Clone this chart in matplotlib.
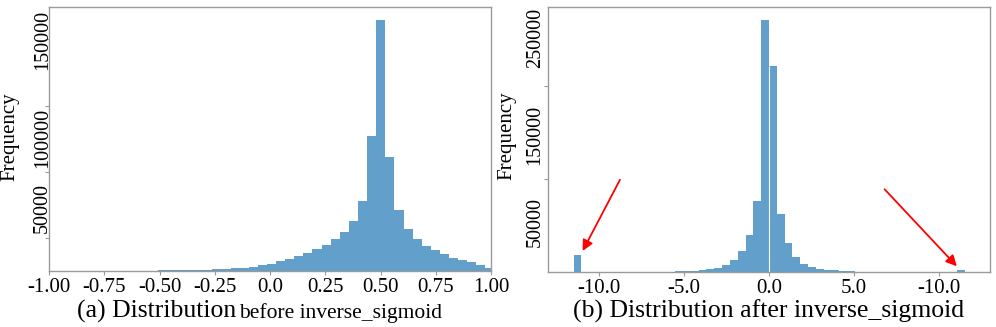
import numpy as np
import matplotlib
matplotlib.use("Agg")
import matplotlib.pyplot as plt

plt.rcParams['font.family'] = ['Liberation Serif', 'DejaVu Serif']

# (a) before inverse_sigmoid : 37 bins
before_edges = np.linspace(-0.508, 1.016, 38)
before_counts = [380, 450, 530, 600, 760, 1060, 1290, 1820, 2050, 2580,
                 3030, 4320, 5610, 7350, 9320, 11360, 13410, 16440, 20000, 24020,
                 29550, 37880, 53330, 102270, 189930, 86670, 46520, 32120, 24550, 18940,
                 16210, 13180, 10150, 8640, 6590, 4550, 2580]

# (b) after inverse_sigmoid : 50 bins
after_edges = np.linspace(-11.5, 11.5, 51)
after_counts = [19700, 0, 0, 0, 0, 0, 0, 0, 0, 0,
                0, 0, 300, 700, 900, 1360, 2260, 3400, 4980, 7580,
                14040, 23430, 42340, 80030, 284920, 233640, 65320, 32830, 17430, 9510,
                5660, 3850, 2600, 1700, 1130, 570, 0, 0, 0, 0,
                0, 0, 0, 0, 0, 0, 0, 0, 0, 1700]

left_xticks = [-1.0, -0.75, -0.5, -0.25, 0.0, 0.25, 0.5, 0.75, 1.0]
left_xlabels = ['-1.00', '-0.75', '-0.50', '-0.25', '0.0', '0.25', '0.50', '0.75', '1.00']
right_xticks = [-10, -5, 0, 5, 10]
right_xlabels = ['-10.0', '-5.0', '0.0', '5.0', '-10.0']

# y labels as they sit in the picture (value, text)
left_ylabels = [(175000, '150000'), (100760, '100000'), (47730, '50000')]
right_ylabels = [(264900, '250000'), (155080, '150000'), (56600, '50000')]

bar_color = '#1f77b4'
spine_color = '#9a9a9a'

fig = plt.figure(figsize=(9.96, 3.27), dpi=100)
ax1 = fig.add_axes([0.0492, 0.1713, 0.4438, 0.8073])
ax2 = fig.add_axes([0.5502, 0.1682, 0.4438, 0.8104])

ax1.hist(before_edges[:-1], bins=before_edges, weights=before_counts,
         color=bar_color, alpha=0.7, linewidth=0)
ax2.hist(after_edges[:-1], bins=after_edges, weights=after_counts,
         color=bar_color, alpha=0.7, linewidth=0)
# thin white gap between the two central bins
mid = np.argmax(after_counts)
ax2.vlines(after_edges[mid + 1], 0, min(after_counts[mid], after_counts[mid + 1]),
           color='white', lw=0.8)

ax1.set_xlim(-1, 1)
ax1.set_ylim(0, 200000)
ax2.set_xlim(-13, 13)
ax2.set_ylim(0, 300000)

ax1.set_xticks(left_xticks)
ax1.set_xticklabels(left_xlabels)
ax2.set_xticks(right_xticks)
ax2.set_xticklabels(right_xlabels)

ax1.set_yticks([25000, 75000, 125000, 176000])
ax2.set_yticks([105000, 210000])

for ax in (ax1, ax2):
    ax.set_yticklabels([])
    for s in ax.spines.values():
        s.set_color(spine_color)
        s.set_linewidth(1.0)
    ax.tick_params(axis='x', labelsize=15, length=3, color=spine_color, pad=2)
    ax.tick_params(axis='y', length=3, color=spine_color)

for val, txt in left_ylabels:
    ax1.text(-0.0143, val, txt, rotation=90, ha='center', va='center', fontsize=14.5,
             transform=ax1.get_yaxis_transform())
for val, txt in right_ylabels:
    ax2.text(-0.029, val, txt, rotation=90, ha='center', va='center', fontsize=14.5,
             transform=ax2.get_yaxis_transform())

ax1.text(-0.088, 0.507, 'Frequency', rotation=90, ha='center', va='center',
         fontsize=15, transform=ax1.transAxes)
ax2.text(-0.092, 0.513, 'Frequency', rotation=90, ha='center', va='center',
         fontsize=15, transform=ax2.transAxes)

# red arrows pointing at the clipped outliers
arrow = dict(arrowstyle='-|>', color='red', lw=1.3, mutation_scale=16)
ax2.annotate('', xy=(-11.04, 21000), xytext=(-8.69, 107200), arrowprops=arrow)
ax2.annotate('', xy=(11.16, 4200), xytext=(6.69, 95900), arrowprops=arrow)

# captions
fig.text(0.0773, 0.0275, '(a) Distribution', fontsize=18.5, va='baseline')
fig.text(0.240, 0.0275, 'before inverse_sigmoid', fontsize=15.5, va='baseline')
fig.text(0.5753, 0.0275, '(b) Distribution after inverse_sigmoid', fontsize=18.5,
         va='baseline')

fig.savefig('out.png', dpi=100)
